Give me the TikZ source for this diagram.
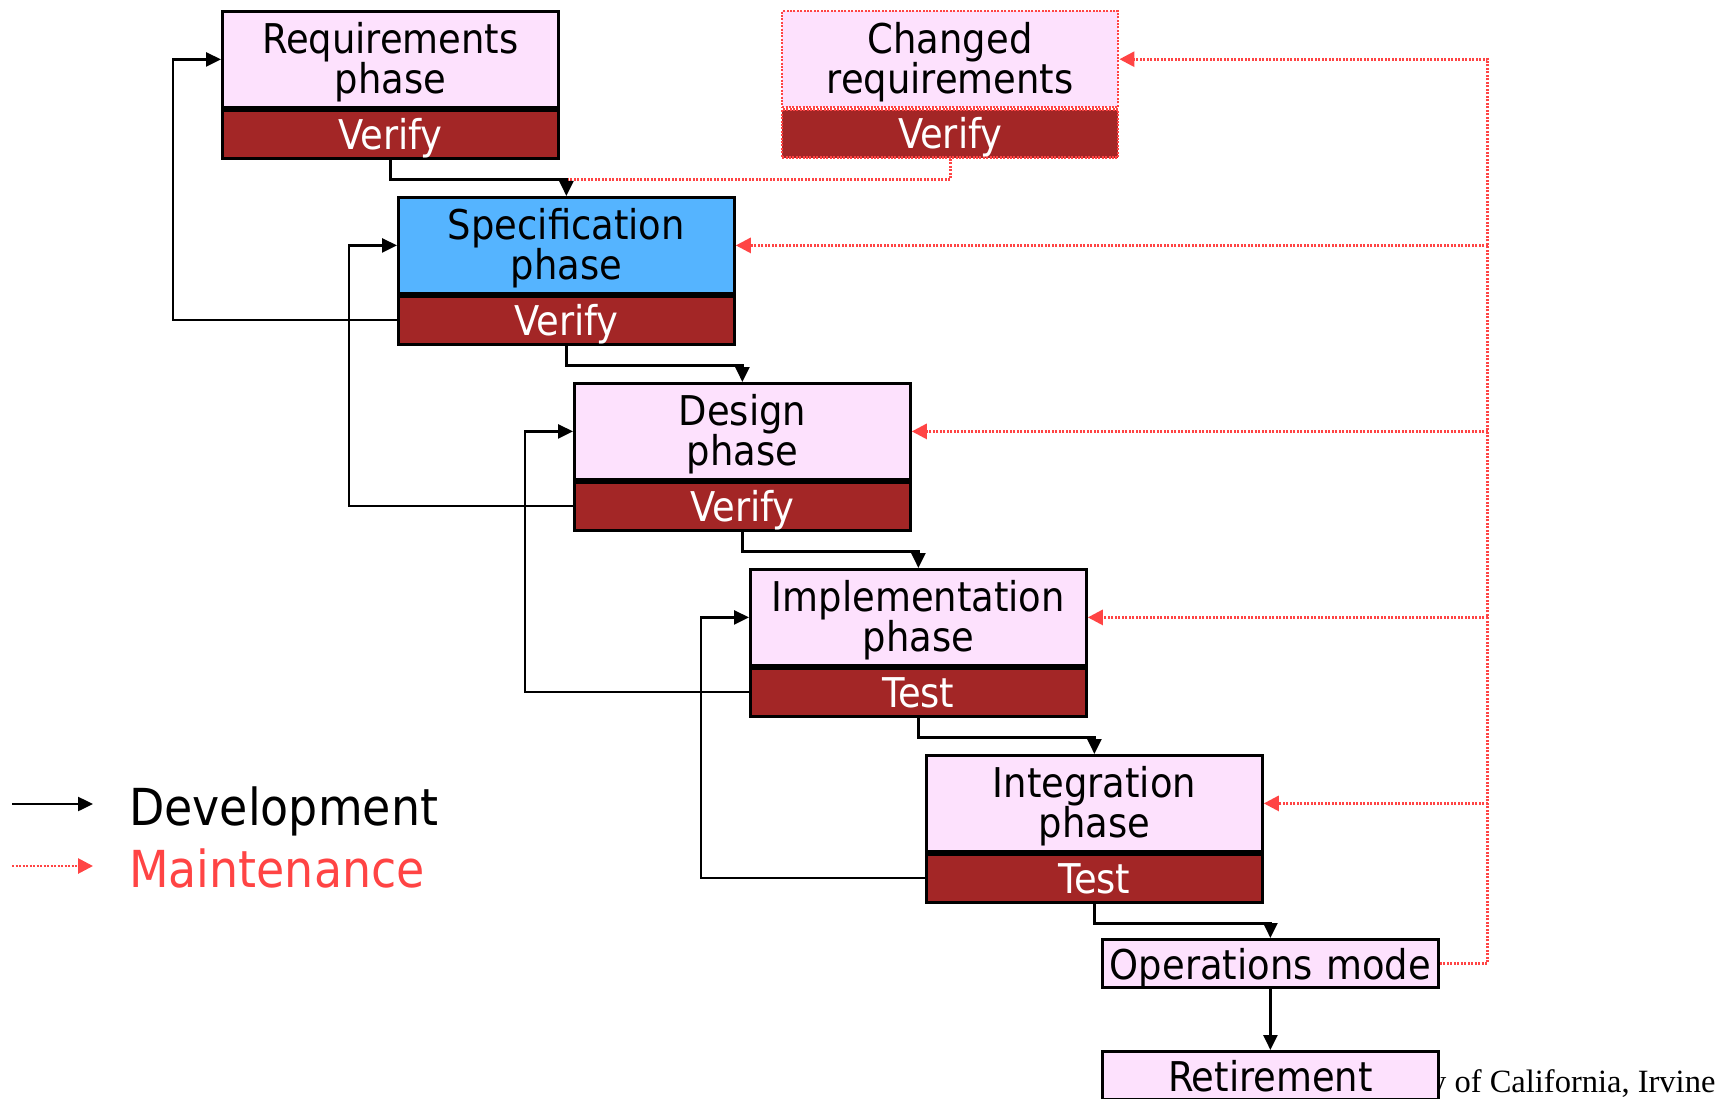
\documentclass[tikz,border=0pt]{standalone}
\usepackage{fontspec}
\usetikzlibrary{arrows.meta,calc}
\newfontfamily\tahoma{DejaVu Sans Condensed}
\newfontfamily\timesf{Liberation Serif}
\definecolor{pinkc}{RGB}{253,225,253}
\definecolor{darkredc}{RGB}{163,38,38}
\definecolor{bluec}{RGB}{85,180,255}
\definecolor{redm}{RGB}{255,68,68}
\newcommand\boxfont{\tahoma\fontsize{41}{40}\selectfont}
\newcommand\legfont{\tahoma\fontsize{51}{56}\selectfont}
\tikzset{
  phasebox/.style={draw=black, line width=2.8pt, fill=pinkc, text width=336pt, align=center,
    inner sep=0pt, minimum height=96pt, text height=42pt, text depth=54pt, font=\boxfont, anchor=north west},
  checkbox/.style={draw=black, line width=2.8pt, fill=darkredc, text=white, text width=336pt, align=center,
    inner sep=0pt, minimum height=48pt, text height=39pt, text depth=9pt, font=\boxfont, anchor=north},
  modebox/.style={draw=black, line width=2.8pt, fill=pinkc, text width=336pt, align=center,
    inner sep=0pt, minimum height=48pt, text height=40pt, text depth=8pt, font=\boxfont, anchor=north west},
  redborder/.style={draw=redm, line width=2.4pt, dash pattern=on 2pt off 1.4pt},
  dev/.style={draw=black, line width=2.5pt, -{Triangle[length=15pt,width=14pt]}},
  mnt/.style={draw=redm, line width=2.8pt, dash pattern=on 2pt off 1.5pt, -{Triangle[length=15pt,width=15pt]}},
  mntline/.style={draw=redm, line width=2.8pt, dash pattern=on 2pt off 1.5pt},
}
\begin{document}
\begin{tikzpicture}[x=1pt,y=-1pt]
\useasboundingbox (0,0) rectangle (1735,1099);
\fill[white] (0,0) rectangle (1735,1099);

% footer text (partly hidden behind Retirement box)
\node[anchor=base west, inner sep=0pt, font=\timesf\fontsize{32.5}{36}\selectfont] (foot) at (1430,1092) {y of California, Irvine};

% boxes
\node[phasebox] (req) at (221,10) {Requirements\\phase};
\node[checkbox] (reqv) at (req.south) {Verify};

\node[phasebox, redborder] (chg) at (781,10) {Changed\\requirements};
\node[checkbox, redborder] (chgv) at (chg.south) {Verify};

\node[phasebox, fill=bluec] (spec) at (397,196) {Specification\\phase};
\node[checkbox] (specv) at (spec.south) {Verify};

\node[phasebox] (des) at (573,382) {Design\\phase};
\node[checkbox] (desv) at (des.south) {Verify};

\node[phasebox] (imp) at (749,568) {Implementation\\phase};
\node[checkbox] (impv) at (imp.south) {Test};

\node[phasebox] (integ) at (925,754) {Integration\\phase};
\node[checkbox] (integv) at (integ.south) {Test};

\node[modebox] (ops) at (1101,938) {Operations mode};
\node[modebox, text height=40pt, text depth=8pt] (ret) at (1101,1050) {Retirement};

% maintenance connectors
\coordinate (j0) at ($(reqv.south)+(0,20)$);
\coordinate (j1) at (spec.north |- j0);
\draw[mntline] (chgv.south) |- (j1);
\coordinate (mx) at ($(ops.east)+(48,0)$);
\draw[mnt] (ops.east) -- (mx) |- (chg.east);
\draw[mnt] (mx |- spec.east) -- (spec.east);
\draw[mnt] (mx |- des.east) -- (des.east);
\draw[mnt] (mx |- imp.east) -- (imp.east);
\draw[mnt] (mx |- integ.east) -- (integ.east);

% development connectors
\draw[dev] (reqv.south) |- (j1) -- (spec.north);
\draw[dev] (specv.south) -- ++(0,20) -| (des.north);
\draw[dev] (desv.south) -- ++(0,20) -| (imp.north);
\draw[dev] (impv.south) -- ++(0,20) -| (integ.north);
\draw[dev] (integv.south) -- ++(0,20) -| (ops.north);
\draw[dev] (ops.south) -- (ret.north);

% feedback loops
\draw[dev] (specv.west) -- ++(-224,0) |- (req.west);
\draw[dev] (desv.west) -- ++(-224,0) |- (spec.west);
\draw[dev] (impv.west) -- ++(-224,0) |- (des.west);
\draw[dev] (integv.west) -- ++(-224,0) |- (imp.west);

% legend
\coordinate (ld1) at (12,804);
\coordinate (ld2) at (93,804);
\coordinate (lm1) at (12,866);
\coordinate (lm2) at (93,866);
\draw[dev] (ld1) -- (ld2);
\draw[mnt] (lm1) -- (lm2);
\node[anchor=base west, inner sep=0pt, font=\legfont] (ldev) at (129,825) {Development};
\node[anchor=base west, inner sep=0pt, font=\legfont, text=redm] (lmnt) at (129,887) {Maintenance};
\end{tikzpicture}
\end{document}
